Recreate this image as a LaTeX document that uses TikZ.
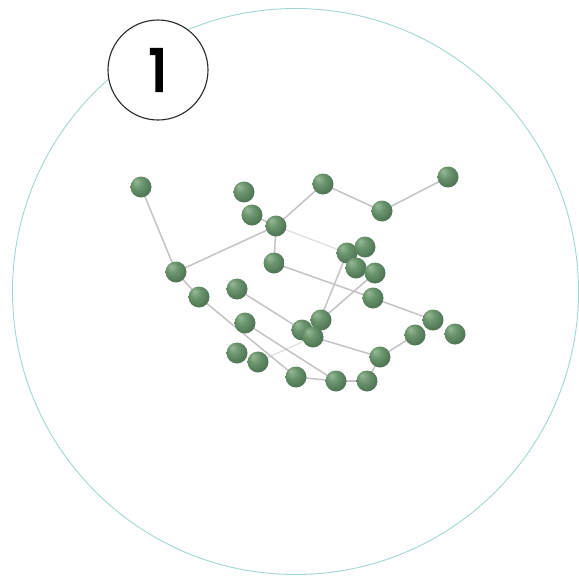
\documentclass[tikz,border=0pt]{standalone}
\usepackage{fontspec}
\setmainfont{Poppins}
\newfontfamily\numfont{Poppins}[FakeBold=4]
\definecolor{ballhi}{RGB}{150,185,150}
\definecolor{ballmid}{RGB}{105,148,108}
\definecolor{balldark}{RGB}{72,108,78}
\pgfdeclareradialshading{softball}{\pgfpoint{-12bp}{14bp}}{%
  color(0bp)=(ballhi); color(14bp)=(ballmid); color(34bp)=(balldark); color(50bp)=(balldark)}
\begin{document}
\begin{tikzpicture}[x=1pt,y=-1pt,
  atom/.style={circle,inner sep=0pt,minimum size=21pt,shading=softball},
  bond/.style={draw={rgb,255:red,195;green,195;blue,200},line width=1.5pt},
  faint/.style={draw={rgb,255:red,228;green,218;blue,228},line width=1.2pt}]
\useasboundingbox (0,0) rectangle (579,576);
\draw[draw={rgb,255:red,160;green,215;blue,212},line width=0.9pt] (295.5,291.5) circle (283);
% node positions
\foreach \n/\x/\y in {A/141/187,B/244/192,C/252/215,D/276/226,E/323/184,F/382/211,G/448/177,
  H/274/263,I/347/253,J/365/247,K/356/268,L/375/273,M/176/272,N/199/297,O/237/289,P/373/298,
  Q/245/323,R/302/330,S/321/320,T/313/337,U/433/320,V/415/335,W/455/334,X/237/353,Y/258/362,
  Z/380/357,AA/296/377,AB/336/381,AC/367/381}
  \coordinate (c\n) at (\x,\y);
% bonds
\path[faint] (cD) -- (cI);
\path[faint] (cY) -- (cT);
\path[bond] (cA) -- (cM);
\path[bond] (cM) -- (cD);
\path[bond] (cM) -- (cN);
\path[bond] (cN) -- (cAA);
\path[bond] (cQ) -- (cAB);
\path[bond] (cO) -- (cR);
\path[bond] (cD) -- (cE);
\path[bond] (cE) -- (cF);
\path[bond] (cF) -- (cG);
\path[bond] (cD) -- (cH);
\path[bond] (cC) -- (cD);
\path[bond] (cH) -- (cP);
\path[bond] (cP) -- (cU);
\path[bond] (cI) -- (cT);
\path[bond] (cL) -- (cS);
\path[bond] (cT) -- (cZ);
\path[bond] (cZ) -- (cV);
\path[bond] (cZ) -- (cAC);
\path[bond] (cAA) -- (cAB);
\path[bond] (cAB) -- (cAC);
% atoms
\foreach \n in {A,B,C,D,E,F,G,H,I,J,K,L,M,N,O,P,Q,R,S,T,U,V,W,X,Y,Z,AA,AB,AC}
  \node[atom] (\n) at (c\n) {};
% label
\node[circle,draw={rgb,255:red,40;green,40;blue,40},line width=1.1pt,fill=white,minimum size=100pt,inner sep=0pt,font=\numfont\fontsize{58}{62}\selectfont] (lbl) at (158,70) {1};
\end{tikzpicture}
\end{document}
